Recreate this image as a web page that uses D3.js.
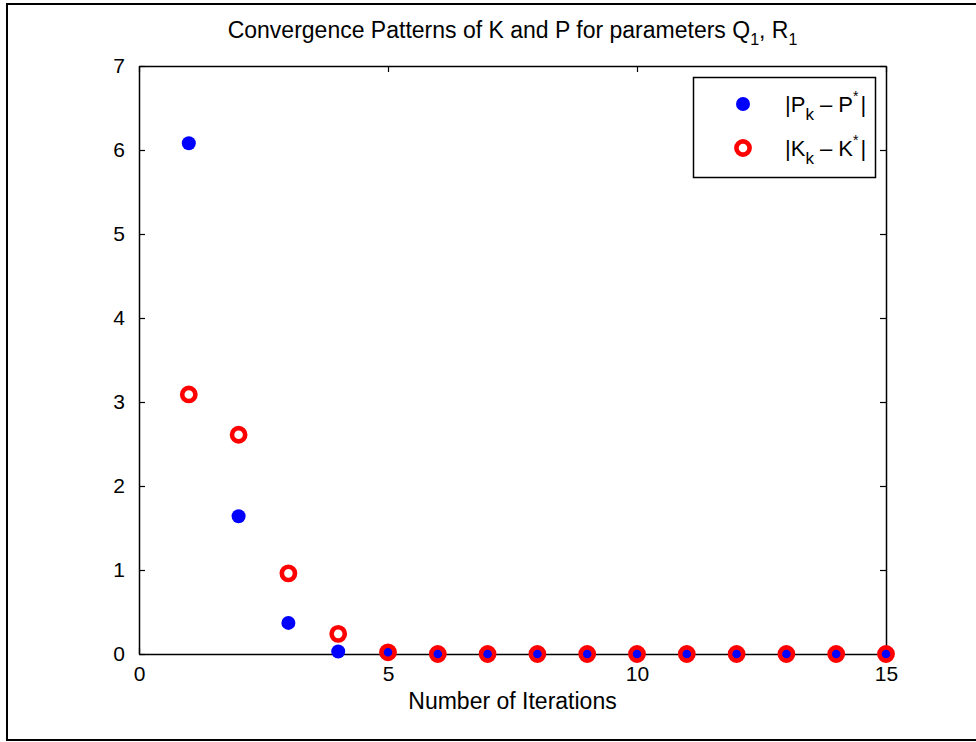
<!DOCTYPE html>
<html>
<head>
<meta charset="utf-8">
<script src="https://cdn.jsdelivr.net/npm/d3@7"></script>
<style>
  body { margin: 0; background: #fff; }
  text { font-family: "Liberation Sans", Arial, sans-serif; fill: #000; }
</style>
</head>
<body>
<div id="chart"></div>
<script>
var iterations = [1, 2, 3, 4, 5, 6, 7, 8, 9, 10, 11, 12, 13, 14, 15];
var pDiff = [6.08, 1.64, 0.37, 0.03, 0.01, 0, 0, 0, 0, 0, 0, 0, 0, 0, 0];
var kDiff = [3.09, 2.61, 0.96, 0.24, 0.02, 0, 0, 0, 0, 0, 0, 0, 0, 0, 0];
var xTicks = [0, 5, 10, 15];
var yTicks = [0, 1, 2, 3, 4, 5, 6, 7];

var width = 976, height = 742;
var plotLeft = 139, plotRight = 886, plotTop = 66, plotBottom = 654;
var tickFont = 21, labelFont = 23;

var svg = d3.select("#chart").append("svg")
    .attr("width", width)
    .attr("height", height);

// outer figure frame
svg.append("rect")
    .attr("x", 7).attr("y", 4)
    .attr("width", 1000).attr("height", 736)
    .attr("fill", "none")
    .attr("stroke", "#000")
    .attr("stroke-width", 2);

var x = d3.scaleLinear().domain([0, 15]).range([plotLeft, plotRight]);
var y = d3.scaleLinear().domain([0, 7]).range([plotBottom, plotTop]);

// axes: ticks pointing inward, mirrored on all sides
var tick = 6;
svg.append("g")
    .attr("transform", "translate(0," + plotBottom + ")")
    .call(d3.axisBottom(x).tickValues(xTicks).tickFormat(d3.format("d")).tickSizeInner(-tick).tickSizeOuter(0).tickPadding(12))
    .call(styleAxis);
svg.append("g")
    .attr("transform", "translate(0," + plotTop + ")")
    .call(d3.axisTop(x).tickValues(xTicks).tickSizeInner(-tick).tickSizeOuter(0).tickFormat(""))
    .call(styleAxis);
svg.append("g")
    .attr("transform", "translate(" + plotLeft + ",0)")
    .call(d3.axisLeft(y).tickValues(yTicks).tickFormat(d3.format("d")).tickSizeInner(-tick).tickSizeOuter(0).tickPadding(14))
    .call(styleAxis);
svg.append("g")
    .attr("transform", "translate(" + plotRight + ",0)")
    .call(d3.axisRight(y).tickValues(yTicks).tickSizeInner(-tick).tickSizeOuter(0).tickFormat(""))
    .call(styleAxis);

function styleAxis(g) {
  g.select(".domain").attr("stroke", "#000").attr("stroke-width", 1.5);
  g.selectAll(".tick line").attr("stroke", "#000").attr("stroke-width", 1.2);
  g.selectAll(".tick text")
      .attr("font-size", tickFont)
      .attr("font-family", "Liberation Sans, Arial, sans-serif")
      .attr("fill", "#000");
}

// data points: P first (filled blue), K on top (red rings)
svg.append("g").selectAll("circle")
    .data(iterations)
    .enter().append("circle")
    .attr("cx", function(d) { return x(d); })
    .attr("cy", function(d, i) { return y(pDiff[i]); })
    .attr("r", 7)
    .attr("fill", "#0000ff");

svg.append("g").selectAll("circle")
    .data(iterations)
    .enter().append("circle")
    .attr("cx", function(d) { return x(d); })
    .attr("cy", function(d, i) { return y(kDiff[i]); })
    .attr("r", 6.6)
    .attr("fill", "none")
    .attr("stroke", "#ff0000")
    .attr("stroke-width", 4.6);

// title
var title = svg.append("text")
    .attr("x", (plotLeft + plotRight) / 2)
    .attr("y", 38)
    .attr("text-anchor", "middle")
    .attr("font-size", labelFont);
title.append("tspan").text("Convergence Patterns of K and P for parameters Q");
title.append("tspan").attr("dy", 7).attr("font-size", 16).text("1");
title.append("tspan").attr("dy", -7).text(", R");
title.append("tspan").attr("dy", 7).attr("font-size", 16).text("1");

// x label
svg.append("text")
    .attr("x", (plotLeft + plotRight) / 2)
    .attr("y", 709)
    .attr("text-anchor", "middle")
    .attr("font-size", labelFont)
    .text("Number of Iterations");

// legend
var legend = svg.append("g");
legend.append("rect")
    .attr("x", 693.5).attr("y", 77.5)
    .attr("width", 182).attr("height", 100)
    .attr("fill", "#fff")
    .attr("stroke", "#000")
    .attr("stroke-width", 1.5);

var legendItems = [
  { name: "P", y: 104 },
  { name: "K", y: 148 }
];

legend.append("circle")
    .attr("cx", 743).attr("cy", legendItems[0].y)
    .attr("r", 7).attr("fill", "#0000ff");
legend.append("circle")
    .attr("cx", 743).attr("cy", legendItems[1].y)
    .attr("r", 6.6).attr("fill", "none")
    .attr("stroke", "#ff0000").attr("stroke-width", 4.6);

legendItems.forEach(function(item) {
  var t = legend.append("text")
      .attr("x", 785)
      .attr("y", item.y + 8)
      .attr("font-size", 22)
      .attr("xml:space", "preserve");
  t.append("tspan").text("|" + item.name);
  t.append("tspan").attr("dy", 8).attr("font-size", 17).text("k");
  t.append("tspan").attr("dy", -8).text(" \u2013 " + item.name);
  t.append("tspan").attr("dy", -11).attr("font-size", 14).text("*");
  t.append("tspan").attr("dy", 11).attr("dx", 2).text("|");
});
</script>
</body>
</html>
